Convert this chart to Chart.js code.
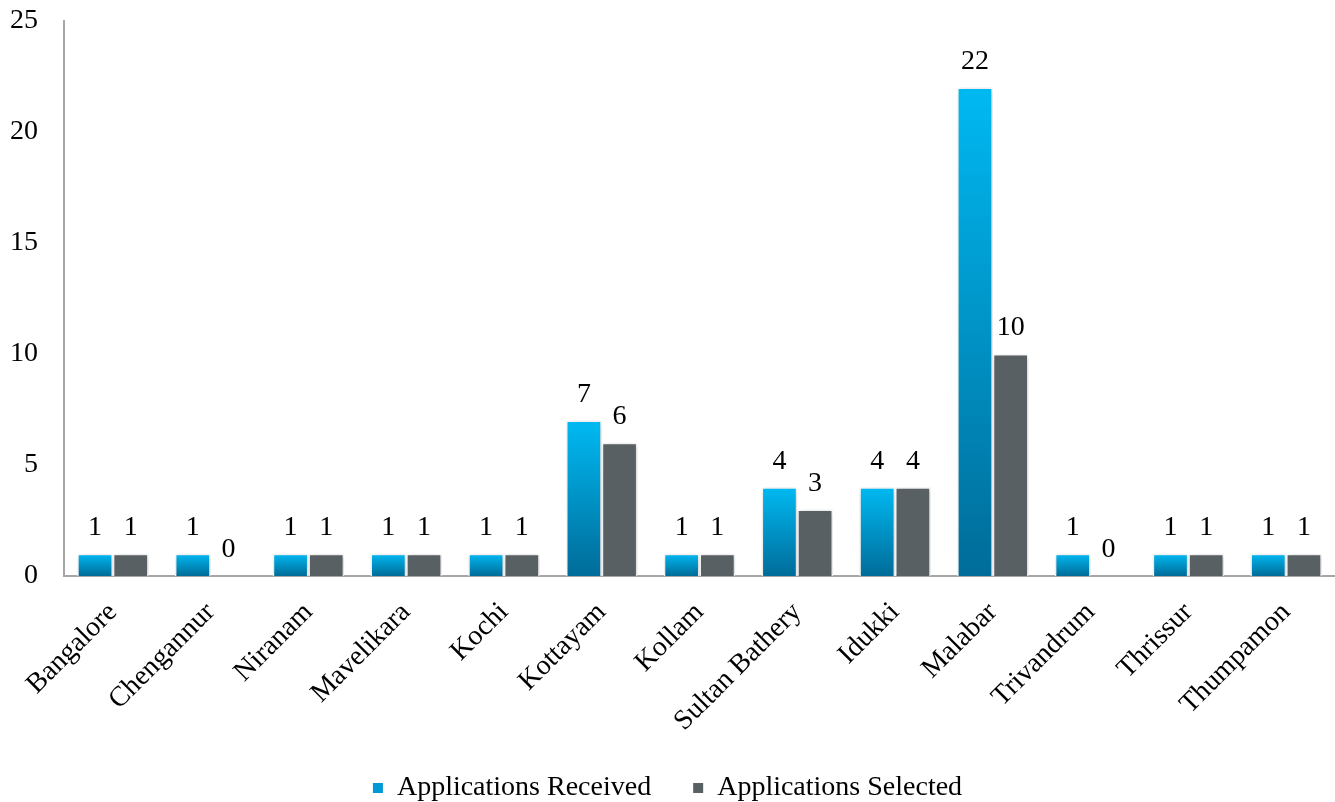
<!DOCTYPE html>
<html>
<head>
<meta charset="utf-8">
<script src="https://cdn.jsdelivr.net/npm/chart.js@4/dist/chart.umd.min.js"></script>
<style>
  html, body { margin: 0; padding: 0; background: #fff; }
  #wrap { width: 1335px; height: 802px; }
</style>
</head>
<body>
<div id="wrap"><canvas id="grafico"></canvas></div>
<script>
const categorias = ["Bangalore", "Chengannur", "Niranam", "Mavelikara", "Kochi", "Kottayam", "Kollam", "Sultan Bathery", "Idukki", "Malabar", "Trivandrum", "Thrissur", "Thumpamon"];
const recebidas = [1, 1, 1, 1, 1, 7, 1, 4, 4, 22, 1, 1, 1];
const selecionadas = [1, 0, 1, 1, 1, 6, 1, 3, 4, 10, 0, 1, 1];
const ticksY = [0, 5, 10, 15, 20, 25];

const fonte = "'Palatino Linotype', 'Book Antiqua', Palatino, 'Liberation Serif', serif";
const tamanho = 28;

function gradiente(context, topo, base) {
  const chart = context.chart;
  const area = chart.chartArea;
  if (!area || context.type !== "data") return topo;
  const y = chart.scales.y;
  const v = context.raw;
  const yTopo = y.getPixelForValue(v);
  const yBase = y.getPixelForValue(0);
  if (yBase - yTopo < 1) return topo;
  const g = chart.ctx.createLinearGradient(0, yTopo, 0, yBase);
  g.addColorStop(0, topo);
  g.addColorStop(1, base);
  return g;
}

const sombra = {
  id: "sombra",
  beforeDatasetsDraw(chart) {
    const c = chart.ctx;
    c.save();
    c.shadowColor = "rgba(0,0,0,0.22)";
    c.shadowBlur = 6;
    c.shadowOffsetX = 1;
    c.shadowOffsetY = 1;
  },
  afterDatasetsDraw(chart) {
    chart.ctx.restore();
  },
};

const rotulos = {
  id: "rotulos",
  afterDatasetsDraw(chart) {
    const c = chart.ctx;
    c.save();
    c.font = tamanho + "px " + fonte;
    c.fillStyle = "#000";
    c.textAlign = "center";
    c.textBaseline = "bottom";
    chart.data.datasets.forEach((ds, i) => {
      const meta = chart.getDatasetMeta(i);
      meta.data.forEach((bar, j) => {
        c.fillText(String(ds.data[j]), bar.x, bar.y - 12);
      });
    });
    c.restore();
  },
};

const ctx = document.getElementById("grafico").getContext("2d");

const grafico = new Chart(ctx, {
  type: "bar",
  data: {
    labels: categorias,
    datasets: [
      {
        label: "Applications Received",
        data: recebidas,
        backgroundColor: (c) => gradiente(c, "#00b9f2", "#006c99"),
        borderColor: "#ffffff",
        borderWidth: 1.5,
        categoryPercentage: 0.73,
        barPercentage: 1.0,
      },
      {
        label: "Applications Selected",
        data: selecionadas,
        backgroundColor: "#596063",
        borderColor: "#ffffff",
        borderWidth: 1.5,
        categoryPercentage: 0.73,
        barPercentage: 1.0,
      },
    ],
  },
  options: {
    responsive: true,
    maintainAspectRatio: false,
    animation: false,
    layout: { padding: { top: 21, right: 0, left: 0, bottom: -10 } },
    scales: {
      x: {
        grid: { display: false, drawTicks: false },
        border: { color: "#a6a6a6", width: 2 },
        afterFit: (s) => {
          s.paddingLeft = 0;
          s.paddingRight = 0;
          s.height -= 26;
        },
        ticks: {
          autoSkip: false,
          maxRotation: 45,
          minRotation: 45,
          padding: 20,
          color: "#000",
          font: { family: fonte, size: tamanho },
        },
      },
      y: {
        min: 0,
        max: 25,
        afterBuildTicks: (eixo) => {
          eixo.ticks = ticksY.map((v) => ({ value: v }));
        },
        afterFit: (s) => {
          s.paddingTop = 0;
          s.paddingBottom = 0;
          s.width = 64;
        },
        grid: { display: false, drawTicks: false },
        border: { color: "#a6a6a6", width: 2 },
        ticks: {
          padding: 26,
          color: "#000",
          font: { family: fonte, size: tamanho },
        },
      },
    },
    plugins: {
      tooltip: { enabled: false },
      legend: {
        position: "bottom",
        labels: {
          boxWidth: 10,
          boxHeight: 10,
          padding: 42,
          color: "#000",
          font: { family: fonte, size: tamanho },
          generateLabels: (chart) =>
            chart.data.datasets.map((ds, i) => ({
              text: ds.label,
              fillStyle: i === 0 ? "#0099d6" : "#596063",
              strokeStyle: "#ffffff",
              lineWidth: 0,
              datasetIndex: i,
              fontColor: "#000",
            })),
        },
      },
    },
  },
  plugins: [sombra, rotulos],
});
</script>
</body>
</html>
